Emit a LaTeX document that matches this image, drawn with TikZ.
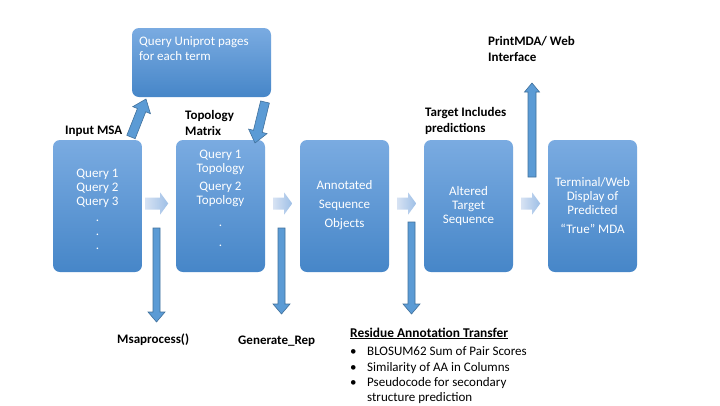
\documentclass[tikz,border=0pt]{standalone}
\usepackage{fontspec}
\setmainfont{Carlito}
\usetikzlibrary{calc}
\definecolor{boxtop}{RGB}{122,171,225}
\definecolor{boxbot}{RGB}{70,134,200}
\definecolor{arrfill}{RGB}{91,155,213}
\definecolor{arrline}{RGB}{65,113,156}
\definecolor{sarrL}{RGB}{214,226,243}
\definecolor{sarrR}{RGB}{158,191,230}
\newcommand\blockarrow[6]{% style, A, B, half shaft, half head, head length
  \coordinate (bah) at ($(#3)!#6!(#2)$);
  \path[#1] ($(#2)!#4!90:(#3)$) -- ($(bah)!#4!90:(#3)$) -- ($(bah)!#5!90:(#3)$) -- (#3)
    -- ($(bah)!#5!-90:(#3)$) -- ($(bah)!#4!-90:(#3)$) -- ($(#2)!#4!-90:(#3)$) -- cycle;}
\tikzset{
  box/.style={rounded corners=7pt, top color=boxtop, bottom color=boxbot, draw=none,
    minimum width=89pt, minimum height=132pt, inner sep=0pt},
  boxtxt/.style={text=white, align=center, inner sep=0pt, font=\fontsize{13}{14}\selectfont},
  lbl/.style={inner sep=0pt, align=left, font=\fontsize{13}{15.5}\selectfont\bfseries},
  txt/.style={inner sep=0pt, align=left, font=\fontsize{13}{15.3}\selectfont},
  bigarr/.style={fill=arrfill, draw=arrline, line width=0.6pt, line join=miter},
  smallarr/.style={left color=sarrL, right color=sarrR, draw=none}
}
\begin{document}
\begin{tikzpicture}[x=1pt, y=-1pt]
\useasboundingbox[fill=white] (0,0) rectangle (720,405);

% main boxes
\node[box] (b1) at (97.5,206) {};
\node[box] (b2) at (220.5,206) {};
\node[box] (b3) at (344.5,206) {};
\node[box] (b4) at (468.5,206) {};
\node[box] (b5) at (592.5,206) {};
\node[box, minimum width=139pt, minimum height=69pt] (up) at (201.5,62.5) {};

% box texts
\node[boxtxt] (t1) at (97.5,209) {Query 1\\Query 2\\Query 3\\[2pt].\\.\\.};
\node[boxtxt] (t2) at (220.5,198) {Query 1\\Topology\\[4pt]Query 2\\Topology\\[8pt].\\[6pt].};
\node[boxtxt] (t3) at (344.5,205) {Annotated\\[5pt]Sequence\\[5pt]Objects};
\node[boxtxt] (t4) at (468.5,206) {Altered\\Target\\Sequence};
\node[boxtxt] (t5) at (592.5,205.5) {Terminal/Web\\Display of\\Predicted\\[5pt]“True” MDA};
\node[boxtxt, align=left, anchor=base west, font=\fontsize{13}{15}\selectfont] (tu) at (139,60) {Query Uniprot pages\\for each term};

% labels
\node[lbl, anchor=base west] (linp) at (65,134) {Input MSA};
\node[lbl, anchor=base west] (ltop) at (185,135) {Topology\\Matrix};
\node[lbl, anchor=base west] (ltar) at (425,132) {Target Includes\\predictions};
\node[lbl, anchor=base west] (lprn) at (488,61) {PrintMDA/ Web\\Interface};
\node[lbl, anchor=base west] (lmsa) at (117,343) {Msaprocess()};
\node[lbl, anchor=base west] (lgen) at (238,344) {Generate\_Rep};
\node[lbl, anchor=base west, font=\fontsize{13.4}{15.5}\selectfont\bfseries] (lres) at (350,337) {\underline{Residue Annotation Transfer}};
\node[txt, anchor=north west] (lst) at (350,345) {%
  \begin{tabular}{@{}p{17pt}@{}l@{}}
  •& BLOSUM62 Sum of Pair Scores\\
  •& Similarity of AA in Columns\\
  •& Pseudocode for secondary\\
   & structure prediction
  \end{tabular}};

% small flow arrows between boxes
\coordinate (s1a) at ($(b1.east)+(3,-2.5)$);  \coordinate (s1b) at ($(b1.east)+(26,-2.5)$);
\coordinate (s2a) at ($(b2.east)+(8,-2.5)$);  \coordinate (s2b) at ($(b2.east)+(27,-2.5)$);
\coordinate (s3a) at ($(b3.east)+(8,-2.5)$);  \coordinate (s3b) at ($(b3.east)+(27,-2.5)$);
\coordinate (s4a) at ($(b4.east)+(8,-2.5)$);  \coordinate (s4b) at ($(b4.east)+(27,-2.5)$);
\blockarrow{smallarr}{s1a}{s1b}{6pt}{11pt}{8pt}
\blockarrow{smallarr}{s2a}{s2b}{6pt}{11pt}{8pt}
\blockarrow{smallarr}{s3a}{s3b}{6pt}{11pt}{8pt}
\blockarrow{smallarr}{s4a}{s4b}{6pt}{11pt}{8pt}

% down arrows to function labels
\coordinate (d1a) at (156.5,228); \coordinate (d1b) at (156.5,322);
\coordinate (d2a) at (281.5,228); \coordinate (d2b) at (281.5,314);
\coordinate (d3a) at (411.5,222); \coordinate (d3b) at (411.5,314);
\blockarrow{bigarr}{d1a}{d1b}{3.5pt}{8.5pt}{10pt}
\blockarrow{bigarr}{d2a}{d2b}{3.5pt}{8.5pt}{10pt}
\blockarrow{bigarr}{d3a}{d3b}{3.5pt}{8.5pt}{10pt}

% up arrow to PrintMDA
\coordinate (u1a) at (532,177); \coordinate (u1b) at (532,83);
\blockarrow{bigarr}{u1a}{u1b}{4pt}{7.5pt}{9pt}

% diagonal arrows to and from Uniprot box
\coordinate (g1a) at (131,137); \coordinate (g1b) at (146,99);
\coordinate (g2a) at (265,102); \coordinate (g2b) at (255,143);
\blockarrow{bigarr}{g1a}{g1b}{4.5pt}{9.5pt}{12pt}
\blockarrow{bigarr}{g2a}{g2b}{4.5pt}{9.5pt}{12pt}
\end{tikzpicture}
\end{document}
